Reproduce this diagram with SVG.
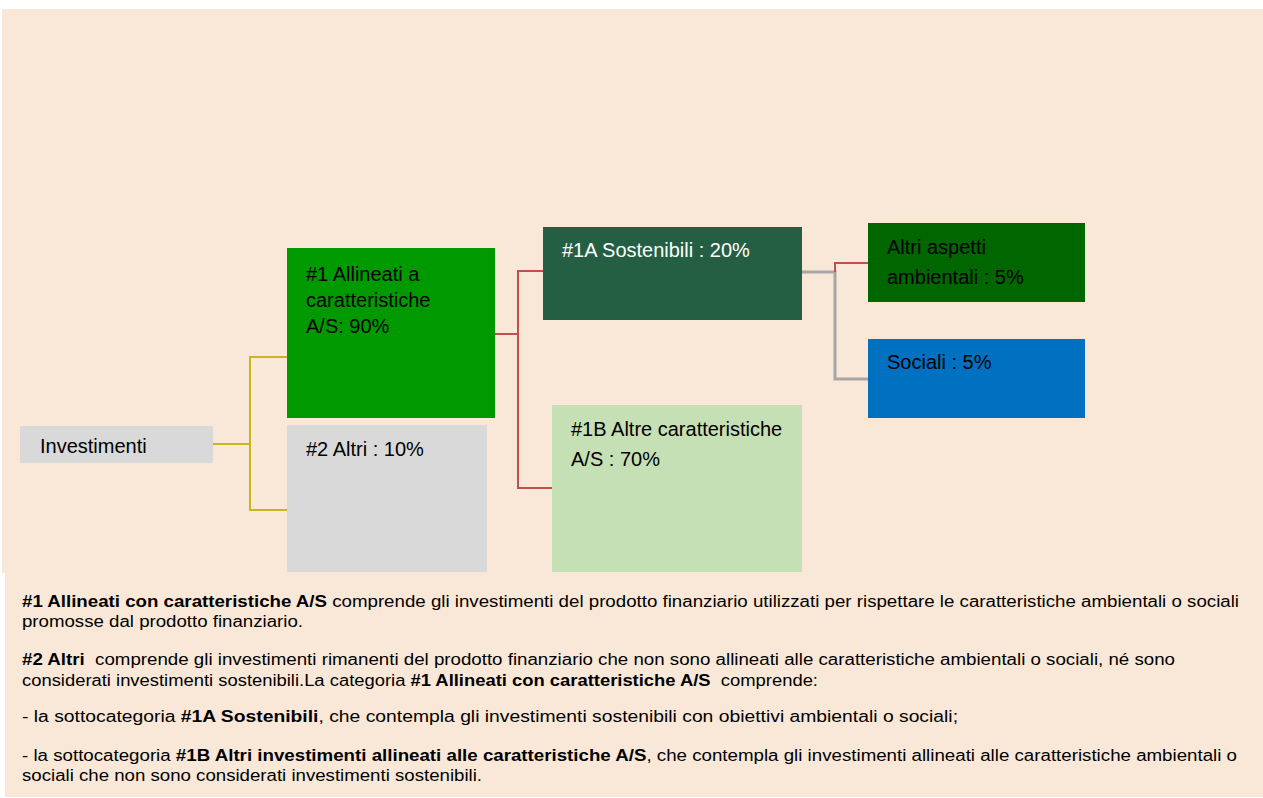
<svg xmlns="http://www.w3.org/2000/svg" width="1263" height="798" viewBox="0 0 1263 798">
<style>
.lbl{font-family:"Liberation Sans",Arial,sans-serif;font-size:20px;fill:#000}
.w{fill:#fff}
.note{font-family:"Liberation Sans",Arial,sans-serif;font-size:16px;fill:#000;white-space:pre}
.b{font-weight:bold}
.cy{fill:none;stroke:#c9b51c;stroke-width:2}
.cr{fill:none;stroke:#c0504d;stroke-width:2}
.cg{fill:none;stroke:#a6a6a6;stroke-width:3}
</style>
<rect x="0" y="0" width="1263" height="798" fill="#ffffff"/>
<rect x="2" y="9" width="1261" height="564" fill="#f9e8d7"/>
<rect x="5" y="573" width="1258" height="224" fill="#f9e8d7"/>
<g id="connectors">
<polyline class="cy" points="213,444 250,444"/>
<polyline class="cy" points="287,357 250,357 250,510 287,510"/>
<polyline class="cr" points="495,334 518,334"/>
<polyline class="cr" points="543,271 518,271 518,488 552,488"/>
<polyline class="cg" points="802,272 835,272 835,379 868,379"/>
<polyline class="cr" points="835,272 835,263 868,263"/>
</g>
<g id="investimenti">
<rect x="20" y="426" width="193" height="37" fill="#d9d9d9"/>
<text class="lbl" x="40" y="453">Investimenti</text>
</g>
<g id="n1">
<rect x="287" y="248" width="208" height="170" fill="#009900"/>
<text class="lbl" x="306" y="281">#1 Allineati a</text>
<text class="lbl" x="306" y="307">caratteristiche</text>
<text class="lbl" x="306" y="333">A/S: 90%</text>
</g>
<g id="n2">
<rect x="287" y="425" width="200" height="147" fill="#d9d9d9"/>
<text class="lbl" x="306" y="456">#2 Altri : 10%</text>
</g>
<g id="n1a">
<rect x="543" y="227" width="259" height="93" fill="#245f43"/>
<text class="lbl w" x="562" y="257">#1A Sostenibili : 20%</text>
</g>
<g id="n1b">
<rect x="552" y="405" width="250" height="167" fill="#c5e0b4"/>
<text class="lbl" x="571" y="436">#1B Altre caratteristiche</text>
<text class="lbl" x="571" y="466">A/S : 70%</text>
</g>
<g id="altri">
<rect x="868" y="223" width="217" height="79" fill="#006600"/>
<text class="lbl" x="887" y="254">Altri aspetti</text>
<text class="lbl" x="887" y="284">ambientali : 5%</text>
</g>
<g id="sociali">
<rect x="868" y="339" width="217" height="79" fill="#0070c0"/>
<text class="lbl" x="887" y="369">Sociali : 5%</text>
</g>
<g id="notes">
<text class="note" x="22" y="607" textLength="1217" lengthAdjust="spacingAndGlyphs"><tspan class="b">#1 Allineati con caratteristiche A/S</tspan> comprende gli investimenti del prodotto finanziario utilizzati per rispettare le caratteristiche ambientali o sociali</text>
<text class="note" x="22" y="627" textLength="281" lengthAdjust="spacingAndGlyphs">promosse dal prodotto finanziario.</text>
<text class="note" x="22" y="665" textLength="1153" lengthAdjust="spacingAndGlyphs"><tspan class="b">#2 Altri</tspan>  comprende gli investimenti rimanenti del prodotto finanziario che non sono allineati alle caratteristiche ambientali o sociali, né sono</text>
<text class="note" x="22" y="686" textLength="796" lengthAdjust="spacingAndGlyphs">considerati investimenti sostenibili.La categoria <tspan class="b">#1 Allineati con caratteristiche A/S</tspan>  comprende:</text>
<text class="note" x="22" y="722" textLength="936" lengthAdjust="spacingAndGlyphs">- la sottocategoria <tspan class="b">#1A Sostenibili</tspan>, che contempla gli investimenti sostenibili con obiettivi ambientali o sociali;</text>
<text class="note" x="22" y="761" textLength="1215" lengthAdjust="spacingAndGlyphs">- la sottocategoria <tspan class="b">#1B Altri investimenti allineati alle caratteristiche A/S</tspan>, che contempla gli investimenti allineati alle caratteristiche ambientali o</text>
<text class="note" x="22" y="781" textLength="460" lengthAdjust="spacingAndGlyphs">sociali che non sono considerati investimenti sostenibili.</text>
</g>
</svg>
